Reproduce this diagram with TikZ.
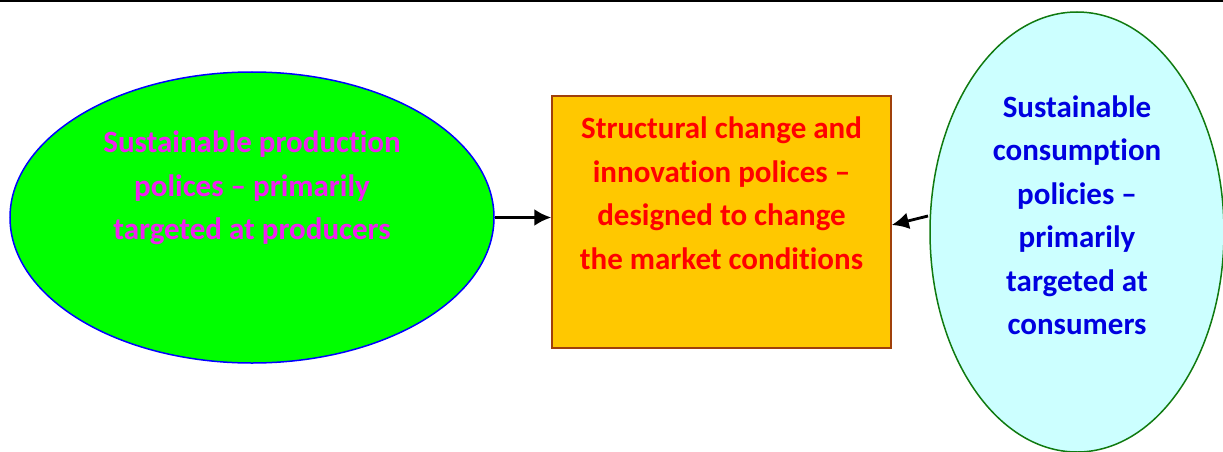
\documentclass[tikz,border=0pt]{standalone}
\usepackage{fontspec}
\setmainfont[Ligatures=CommonOff]{Carlito}
\usepackage{tikz}
\usetikzlibrary{arrows.meta}
\usetikzlibrary{shapes}
\usetikzlibrary{calc}

\definecolor{prodfill}{HTML}{00FF00}
\definecolor{prodtext}{HTML}{F020F0}
\definecolor{boxfill}{HTML}{FFC800}
\definecolor{boxline}{HTML}{A0400A}
\definecolor{consfill}{HTML}{CCFFFF}
\definecolor{consline}{HTML}{107A10}
\definecolor{constext}{HTML}{0000E0}

\begin{document}
\begin{tikzpicture}[x=1pt,y=-1pt,
			every node/.style={font=\fontsize{31}{43.5}\selectfont\bfseries,align=center,inner sep=0pt},
			pol/.style={ellipse,draw,line width=1.5pt},
			arr/.style={-{Latex[length=17pt,width=17pt]},line width=2.8pt}]
			\useasboundingbox (0,0) rectangle (1223,452);
			\fill[black] (0,0) rectangle (1223,2.5);
			
			% left policy field
			\node[pol,fill=prodfill,draw=blue,minimum width=484,minimum height=291] (prod) at (252,217.5) {};
			\node[text=prodtext] (prodtxt) at (252,188) {Sustainable production\\polices -- primarily\\targeted at producers};
			
			% middle box
			\node[draw=boxline,fill=boxfill,line width=1.5pt,minimum width=339,minimum height=252] (mkt) at (721.5,222) {};
			\node[text=red] (mkttxt) at (721.5,193) {Structural change and\\innovation polices --\\designed to change\\the market conditions};
			
			% right policy field
			\node[pol,fill=consfill,draw=consline,minimum width=294,minimum height=440] (cons) at (1077,232) {};
			\node[text=constext] (constxt) at (1077,215) {Sustainable\\consumption\\policies --\\primarily\\targeted at\\consumers};
			
			\coordinate (pin) at (prod.east);
			\coordinate (cin) at (928,216);
			\draw[arr] (pin) -- (mkt.west |- pin);
			\draw[arr] (cin) -- ($(mkt.east)+(0,3)$);
		\end{tikzpicture}
\end{document}
